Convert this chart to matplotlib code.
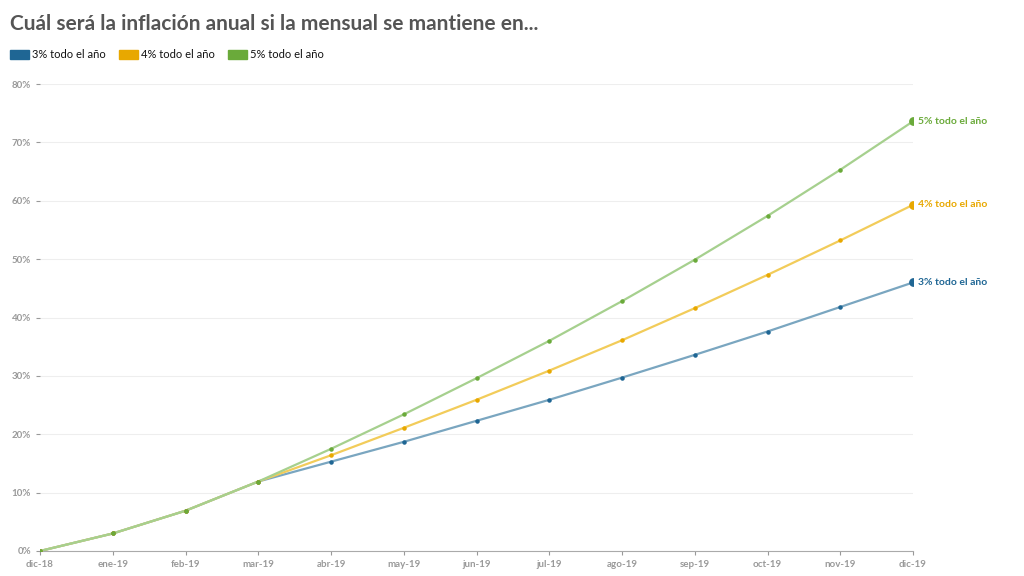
import matplotlib
matplotlib.use("Agg")
import matplotlib.pyplot as plt
from matplotlib.patches import Rectangle

months = ["dic-18","ene-19","feb-19","mar-19","abr-19","may-19","jun-19","jul-19","ago-19","sep-19","oct-19","nov-19","dic-19"]
s3 = [0, 3.0, 6.9, 11.9, 15.3, 18.7, 22.3, 25.9, 29.7, 33.6, 37.6, 41.8, 46.0]
s4 = [0, 3.0, 6.9, 11.9, 16.4, 21.1, 25.9, 30.9, 36.1, 41.6, 47.3, 53.2, 59.3]
s5 = [0, 3.0, 6.9, 11.9, 17.5, 23.4, 29.6, 36.0, 42.8, 49.9, 57.4, 65.3, 73.6]
names = ["3% todo el año", "4% todo el año", "5% todo el año"]
colors = ["#1f6694", "#e8a800", "#6aaa3a"]
lcolors = ["#7aa6c0", "#f2cc5a", "#a6d08e"]
yticks = list(range(0, 81, 10))

plt.rcParams['font.family'] = ['Lato', 'DejaVu Sans']
fig = plt.figure(figsize=(10.24, 5.76), dpi=100)
ax = fig.add_axes([40/1024, 1-551/576, (913-40)/1024, (551-84)/576])
x = list(range(len(months)))
for s, c, lc, n in zip([s3, s4, s5], colors, lcolors, names):
    ax.plot(x, s, color=lc, lw=1.6, zorder=2)
    ax.scatter(x[:-1], s[:-1], s=5, color=c, zorder=3)
    ax.scatter([x[-1]], [s[-1]], s=28, color=c, zorder=4)
    ax.text(x[-1] + 0.07, s[-1], n, color=c, fontsize=7.5, fontweight='bold', va='center')
ax.set_xlim(0, 12)
ax.set_ylim(0, 80)
ax.set_xticks(x)
ax.set_xticklabels(months)
ax.set_yticks(yticks)
ax.set_yticklabels([f"{v}%" for v in yticks])
ax.tick_params(axis='both', labelsize=7, colors='#999999', length=3)
for t in ax.get_xticklabels() + ax.get_yticklabels():
    t.set_fontweight('bold')
ax.grid(axis='y', color='#eeeeee', lw=0.8)
for sp in ['top', 'right', 'left']:
    ax.spines[sp].set_visible(False)
ax.spines['bottom'].set_color('#aaaaaa')
ax.set_axisbelow(True)

fig.text(10/1024, 1-24/576, "Cuál será la inflación anual si la mensual se mantiene en...", fontsize=15, fontweight='bold', color='#555555', va='center')
lx = [10, 119, 228]
for xx, c, n in zip(lx, colors, names):
    fig.patches.append(Rectangle((xx/1024, 1-59/576), 19/1024, 9/576, color=c, transform=fig.transFigure))
    fig.text((xx+22)/1024, 1-54.5/576, n, fontsize=8, color='#111111', va='center')
fig.savefig("out.png", dpi=100)
